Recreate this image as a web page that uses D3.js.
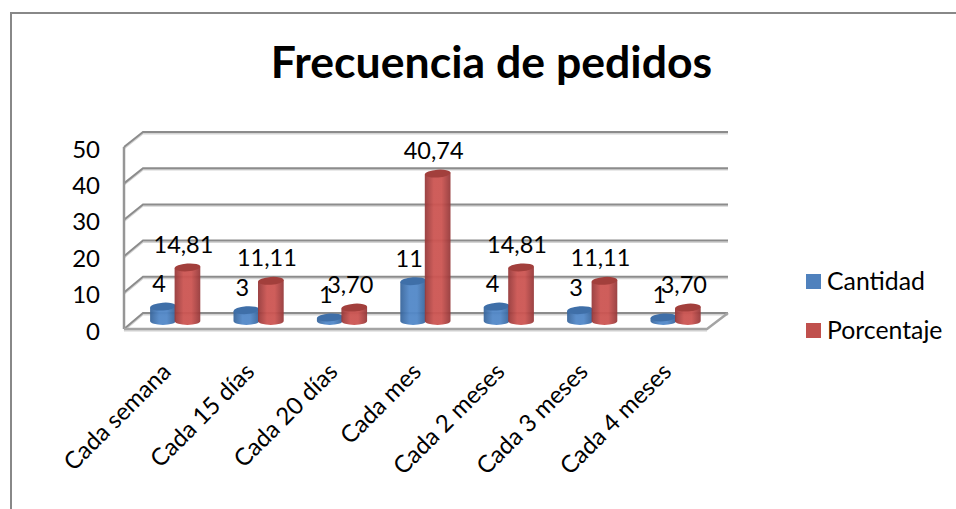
<!DOCTYPE html>
<html>
<head>
<meta charset="utf-8">
<script src="https://cdn.jsdelivr.net/npm/d3@7/dist/d3.min.js"></script>
<style>
html,body{margin:0;padding:0;background:#fff}
svg{display:block}
text{font-family:Lato,"Open Sans",sans-serif;fill:#000}
</style>
</head>
<body>
<svg id="chart" width="956" height="509"></svg>
<script>
const title = "Frecuencia de pedidos";
const categories = ["Cada semana","Cada 15 días","Cada 20 días","Cada mes","Cada 2 meses","Cada 3 meses","Cada 4 meses"];
const seriesNames = ["Cantidad","Porcentaje"];
const cantidad = [4,3,1,11,4,3,1];
const porcentaje = [14.81,11.11,3.70,40.74,14.81,11.11,3.70];
const cantidadLabels = ["4","3","1","11","4","3","1"];
const porcentajeLabels = ["14,81","11,11","3,70","40,74","14,81","11,11","3,70"];
const yTicks = [0,10,20,30,40,50];

const svg = d3.select("#chart");
const colors = {Cantidad:{edge:"#38659b",mid:"#5288c8",top:"#3f6fa8",key:"#4f81bd"},
                Porcentaje:{edge:"#96393a",mid:"#cc5552",top:"#a23f3c",key:"#c0504d"}};

// Outer chart frame: only the top and left edges fall inside the page
svg.append("path").attr("d","M11,509V13H956").attr("fill","none").attr("stroke","#888").attr("stroke-width",2);

svg.append("text").attr("x",491.5).attr("y",78).attr("text-anchor","middle")
  .attr("font-size",44.6).attr("font-weight",700).text(title);

// Three value scales: front wall edge, back wall edge, and the column axis in between
const yFront = d3.scaleLinear().domain([0,50]).range([329,147]);
const yBack  = d3.scaleLinear().domain([0,50]).range([313,132]);
const yBar   = d3.scaleLinear().domain([0,50]).range([321,140]);
const x0 = d3.scaleBand().domain(categories).range([133.5,717.3]);
const x1 = d3.scaleBand().domain(seriesNames).range([-24.5,24.5]);
const xFloor = {front:[124,707], back:[143,728]};

// Wall and floor
const grid = svg.append("g").attr("fill","none");
const gridLine = (color,dy,w) => {
  const g = grid.append("g").attr("stroke",color).attr("stroke-width",w).attr("transform",`translate(0,${dy})`);
  g.selectAll("path.back").data(yTicks).join("path")
    .attr("d",t=>`M${xFloor.front[0]},${yFront(t)}L${xFloor.back[0]},${yBack(t)}H${xFloor.back[1]}`);
};
gridLine("#d4d4d4",1.6,1.6);
gridLine("#8c8c8c",0,2);
grid.append("path").attr("d",`M${xFloor.front[0]},${yFront(50)}V${yFront(0)}`).attr("stroke","#969696").attr("stroke-width",2.5);
grid.append("path").attr("d",`M${xFloor.front[0]},${yFront(0)}H${xFloor.front[1]}L${xFloor.back[1]},${yBack(0)}`).attr("stroke","#a4a4a4").attr("stroke-width",2.5);
grid.append("path").attr("d",`M${xFloor.front[0]},${yFront(0)+1.8}H${xFloor.front[1]}`).attr("stroke","#cfcfcf").attr("stroke-width",1.5);

// Y axis labels
svg.append("g").selectAll("text").data(yTicks).join("text")
  .attr("x",100).attr("y",t=>yFront(t)+10.5).attr("text-anchor","end").attr("font-size",24).text(t=>t);

// Shading across each cylinder
const defs = svg.append("defs");
seriesNames.forEach(n=>{
  const lg = defs.append("linearGradient").attr("id","cyl"+n);
  lg.append("stop").attr("offset",0).attr("stop-color",colors[n].edge);
  lg.append("stop").attr("offset",0.35).attr("stop-color",colors[n].mid);
  lg.append("stop").attr("offset",0.65).attr("stop-color",colors[n].mid);
  lg.append("stop").attr("offset",1).attr("stop-color",colors[n].edge);
});

const rx = x1.bandwidth()/2+0.6, ry = 3.9, tilt = -4;
const series = [
  {name:"Cantidad",values:cantidad,labels:cantidadLabels},
  {name:"Porcentaje",values:porcentaje,labels:porcentajeLabels}
];
const bars = svg.append("g");
const labels = svg.append("g");
series.forEach(s=>{
  const cx = i => x0(categories[i]) + x0.bandwidth()/2 + x1(s.name) + x1.bandwidth()/2;
  const g = bars.selectAll(null).data(s.values).join("g");
  g.append("path")
    .attr("fill",`url(#cyl${s.name})`).attr("fill-opacity",0.95)
    .attr("d",(v,i)=>`M${cx(i)-rx},${yBar(v)+0.9}V${yBar(0)}A${rx},${ry} 0 0 0 ${cx(i)+rx},${yBar(0)}V${yBar(v)-0.9}Z`);
  g.append("ellipse")
    .attr("fill",colors[s.name].top)
    .attr("rx",rx).attr("ry",ry)
    .attr("transform",(v,i)=>`translate(${cx(i)},${yBar(v)}) rotate(${tilt})`);
  labels.selectAll(null).data(s.values).join("text")
    .attr("x",(v,i)=>cx(i)-4).attr("y",v=>yBar(v)-14.5)
    .attr("text-anchor","middle").attr("font-size",23.5)
    .text((v,i)=>s.labels[i]);
});

// Slanted category labels
svg.append("g").selectAll("text").data(categories).join("text")
  .attr("transform",(c,i)=>`translate(${x0(c)+x0.bandwidth()/2-15},${361}) rotate(-45)`)
  .attr("text-anchor","end").attr("font-size",24).attr("dy","0.72em").text(c=>c);

// Legend
const legend = svg.append("g").selectAll("g").data(seriesNames).join("g")
  .attr("transform",(n,i)=>`translate(806,${274+i*49})`);
legend.append("rect").attr("width",15).attr("height",15).attr("fill",n=>colors[n].key);
legend.append("text").attr("x",21).attr("y",16).attr("font-size",24.8).text(n=>n);
</script>
</body>
</html>
